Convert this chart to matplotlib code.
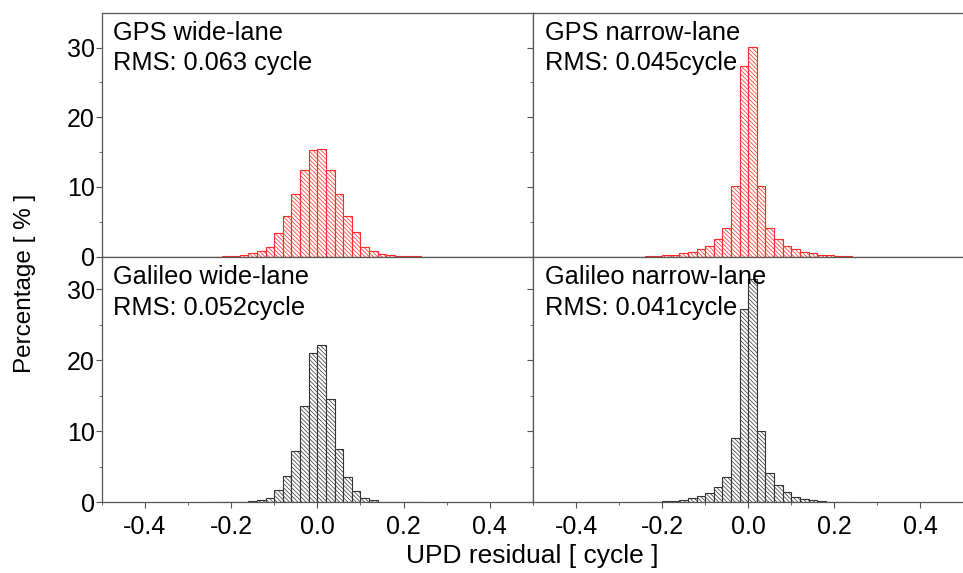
import matplotlib
matplotlib.use("Agg")
import matplotlib.pyplot as plt
import numpy as np

plt.rcParams['font.family'] = ['Liberation Sans', 'DejaVu Sans']
plt.rcParams['hatch.linewidth'] = 0.5
plt.rcParams['axes.unicode_minus'] = False

# bin left edges, width 0.02 cycle
bin_left = np.round(np.arange(-0.24, 0.24, 0.02), 2)
bin_width = 0.02

gps_wl = [0.0, 0.05, 0.1, 0.24, 0.48, 0.86, 1.33, 3.4, 5.8, 8.95, 12.5, 15.3,
          15.5, 12.5, 9.0, 5.9, 3.6, 1.43, 0.76, 0.38, 0.19, 0.1, 0.05, 0.03]
gps_nl = [0.1, 0.14, 0.2, 0.3, 0.48, 0.7, 1.05, 1.5, 2.5, 4.1, 10.1, 27.3,
          30.1, 10.2, 4.1, 2.5, 1.6, 1.05, 0.7, 0.48, 0.3, 0.2, 0.14, 0.1]
gal_wl = [0.0, 0.0, 0.0, 0.05, 0.14, 0.28, 0.57, 1.75, 3.7, 7.2, 13.5, 21.0,
          22.2, 14.6, 7.5, 3.6, 1.65, 0.57, 0.28, 0.1, 0.05, 0.0, 0.0, 0.0]
gal_nl = [0.04, 0.08, 0.14, 0.23, 0.33, 0.6, 0.9, 1.3, 2.1, 3.6, 9.1, 27.2,
          31.5, 10.1, 4.1, 2.4, 1.4, 0.8, 0.5, 0.33, 0.19, 0.1, 0.06, 0.04]

titles = ["GPS wide-lane", "GPS narrow-lane", "Galileo wide-lane", "Galileo narrow-lane"]
rms_labels = ["RMS: 0.063 cycle", "RMS: 0.045cycle", "RMS: 0.052cycle", "RMS: 0.041cycle"]

fig = plt.figure(figsize=(9.63, 5.73), dpi=100)

W, H = 963.0, 573.0
x0, xm, x1 = 101.7, 533.0, 963.5
ytop, ymid, ybot = 12.7, 256.7, 502.3

def rect(l, r, t, b):
    return [l / W, 1 - b / H, (r - l) / W, (b - t) / H]

axes = [
    fig.add_axes(rect(x0, xm, ytop, ymid)),
    fig.add_axes(rect(xm, x1, ytop, ymid)),
    fig.add_axes(rect(x0, xm, ymid, ybot)),
    fig.add_axes(rect(xm, x1, ymid, ybot)),
]
data = [gps_wl, gps_nl, gal_wl, gal_nl]
colors = ["#ff2a2a", "#ff2a2a", "#333333", "#333333"]
ylims = [35.0, 35.0, 34.6, 34.6]

for i, ax in enumerate(axes):
    ax.bar(bin_left, data[i], width=bin_width, align='edge', color='white',
           edgecolor=colors[i], hatch='\\\\\\\\\\\\\\\\', linewidth=0.8)
    ax.set_xlim(-0.5, 0.5)
    ax.set_ylim(0, ylims[i])
    ax.set_xticks([-0.4, -0.2, 0.0, 0.2, 0.4])
    ax.set_xticks(np.arange(-0.5, 0.51, 0.1), minor=True)
    ax.set_yticks([0, 10, 20, 30])
    ax.set_yticks([5, 15, 25], minor=True)
    ax.tick_params(direction='out', length=4, width=0.8, color='#555555',
                   labelsize=18)
    ax.tick_params(axis='x', pad=5)
    ax.tick_params(axis='y', pad=1)
    ax.tick_params(which='minor', direction='out', length=2, width=0.6, color='#555555')
    for s in ax.spines.values():
        s.set_color('#555555')
        s.set_linewidth(0.9)
    if i in (1, 3):
        ax.spines['right'].set_visible(False)
        ax.tick_params(labelleft=False)
    if i in (0, 1):
        ax.tick_params(labelbottom=False)
    ax.text(0.027, 0.965, titles[i], transform=ax.transAxes, fontsize=18.3,
            va='top', ha='left', zorder=5)
    ax.text(0.027, 0.842, rms_labels[i], transform=ax.transAxes, fontsize=18.3,
            va='top', ha='left', zorder=5)

fig.text(0.026, 0.505, "Percentage [ % ]", rotation=90, fontsize=17.5,
         va='center', ha='center')
fig.text(0.553, 0.03, "UPD residual [ cycle ]", fontsize=19, va='center', ha='center')

fig.savefig("out.png", dpi=100)
